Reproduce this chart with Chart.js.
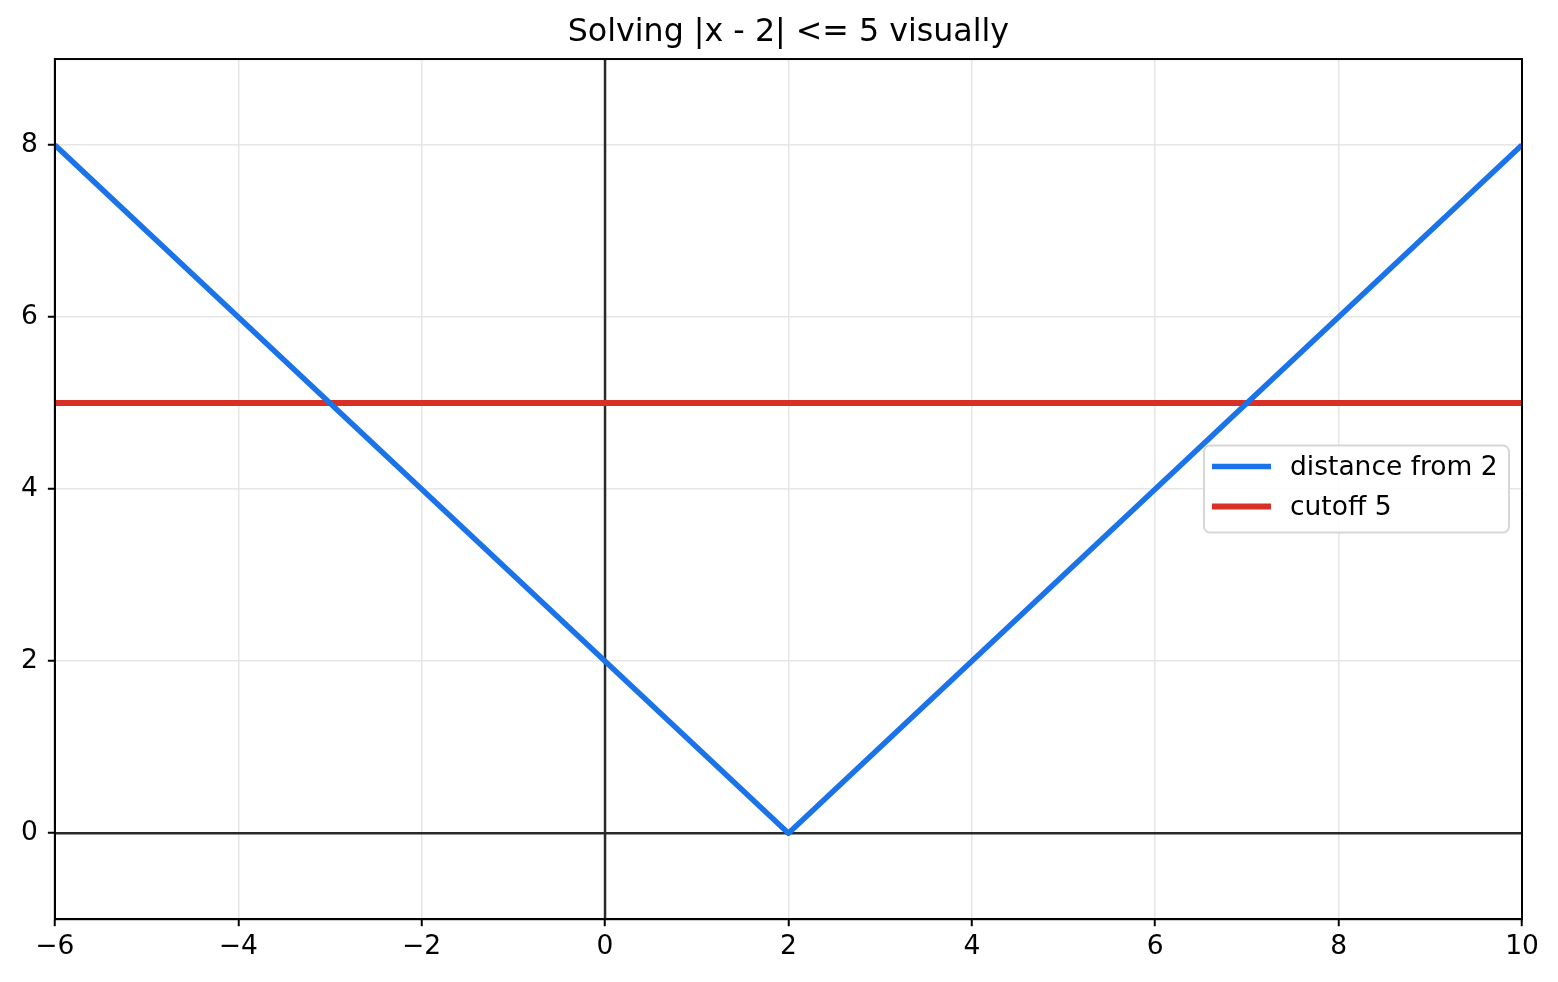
<!DOCTYPE html>
<html>
<head>
<meta charset="utf-8">
<script src="https://cdn.jsdelivr.net/npm/chart.js@4"></script>
<style>
  body { margin: 0; background: #fff; }
  #wrap { width: 1558px; height: 982px; }
</style>
</head>
<body>
<div id="wrap"><canvas id="myChart"></canvas></div>
<script>
let xs = [-6, 2, 10];
let dist = [8, 0, 8];
let cutoffX = [-6, 10];
let cutoff = [5, 5];
let xTicks = [-6, -4, -2, 0, 2, 4, 6, 8, 10];
let yTicks = [0, 2, 4, 6, 8];
let seriesNames = ["distance from 2", "cutoff 5"];
let colors = ['#1a73e8', '#d93025'];

let font = "'DejaVu Sans', sans-serif";
let fmt = v => String(v).replace('-', '\u2212');

// x = 0 and y = 0 reference lines, above the grid, below the data
let zeroLinesPlugin = {
    id: 'zeroLines',
    beforeDatasetsDraw(chart) {
        let a = chart.chartArea, c = chart.ctx;
        let px = chart.scales.x.getPixelForValue(0);
        let py = chart.scales.y.getPixelForValue(0);
        c.save();
        c.strokeStyle = '#2a2a2a';
        c.lineWidth = 2.5;
        c.beginPath();
        c.moveTo(px, a.top);
        c.lineTo(px, a.bottom);
        c.moveTo(a.left, py);
        c.lineTo(a.right, py);
        c.stroke();
        c.restore();
    }
};

// frame on the top and right, matplotlib style
let framePlugin = {
    id: 'frame',
    afterDraw(chart) {
        let a = chart.chartArea, c = chart.ctx;
        c.save();
        c.strokeStyle = '#000';
        c.lineWidth = 2;
        c.strokeRect(a.left, a.top, a.right - a.left, a.bottom - a.top);
        c.restore();
    }
};

// legend box at center right inside the plot
let legendPlugin = {
    id: 'boxLegend',
    afterDraw(chart) {
        let a = chart.chartArea, c = chart.ctx;
        let w = 305, h = 87;
        let left = a.right - 13 - w;
        let top = (a.top + a.bottom) / 2 - h / 2;
        c.save();
        c.beginPath();
        c.roundRect(left, top, w, h, 6);
        c.fillStyle = 'rgba(255,255,255,0.85)';
        c.fill();
        c.strokeStyle = '#d6d6d6';
        c.lineWidth = 2;
        c.stroke();
        c.font = '26.5px ' + font;
        c.textBaseline = 'middle';
        chart.data.datasets.forEach((ds, i) => {
            let y = top + 21 + i * 40;
            c.beginPath();
            c.moveTo(left + 8, y);
            c.lineTo(left + 67, y);
            c.strokeStyle = ds.borderColor;
            c.lineWidth = ds.borderWidth;
            c.stroke();
            c.fillStyle = '#000';
            c.fillText(ds.label, left + 86, y + 1);
        });
        c.restore();
    }
};

let ctx = document.getElementById("myChart").getContext('2d');
let myChart = new Chart(ctx, {
    type: 'line',
    data: {
        datasets: [{
            label: seriesNames[0],
            data: xs.map((x, i) => ({x: x, y: dist[i]})),
            borderColor: colors[0],
            borderWidth: 5.5,
            borderJoinStyle: 'round',
            pointRadius: 0,
            tension: 0
        }, {
            label: seriesNames[1],
            data: cutoffX.map((x, i) => ({x: x, y: cutoff[i]})),
            borderColor: colors[1],
            borderWidth: 6,
            pointRadius: 0,
            tension: 0
        }]
    },
    plugins: [zeroLinesPlugin, framePlugin, legendPlugin],
    options: {
        responsive: true,
        maintainAspectRatio: false,
        animation: false,
        layout: { padding: { left: 11, right: 36, bottom: 14, top: 0 } },
        plugins: {
            legend: { display: false },
            tooltip: { enabled: false },
            title: {
                display: true,
                fullSize: false,
                text: 'Solving |x - 2| <= 5 visually',
                color: '#000',
                font: { family: font, size: 31.7, weight: 'normal', lineHeight: 1.2 },
                padding: { top: 14, bottom: 7 }
            }
        },
        scales: {
            x: {
                type: 'linear',
                min: -6,
                max: 10,
                afterBuildTicks: s => { s.ticks = xTicks.map(v => ({value: v})); },
                ticks: {
                    color: '#000',
                    padding: 5,
                    maxRotation: 0,
                    font: { family: font, size: 26.5 },
                    callback: fmt
                },
                grid: {
                    color: '#e6e6e6',
                    lineWidth: 1.5,
                    tickColor: '#000',
                    tickWidth: 2,
                    tickLength: 7
                },
                border: { color: '#000', width: 2 }
            },
            y: {
                type: 'linear',
                min: -1,
                max: 9,
                afterBuildTicks: s => { s.ticks = yTicks.map(v => ({value: v})); },
                ticks: {
                    color: '#000',
                    padding: 10,
                    font: { family: font, size: 26.5 },
                    callback: fmt
                },
                grid: {
                    color: '#e6e6e6',
                    lineWidth: 1.5,
                    tickColor: '#000',
                    tickWidth: 2,
                    tickLength: 7
                },
                border: { color: '#000', width: 2 }
            }
        }
    }
});
</script>
</body>
</html>
